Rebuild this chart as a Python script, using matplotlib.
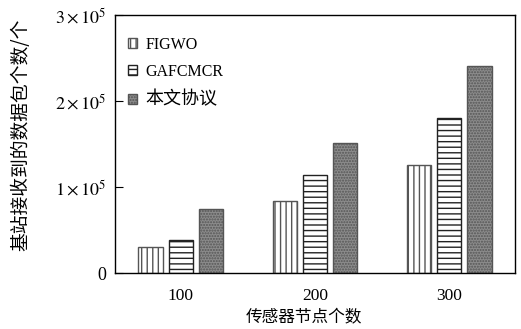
import matplotlib
matplotlib.use("Agg")
import matplotlib.pyplot as plt
import numpy as np

plt.rcParams["font.family"] = ["Liberation Serif", "Noto Sans CJK SC"]
plt.rcParams["mathtext.fontset"] = "stix"
plt.rcParams["hatch.linewidth"] = 1.0

# 数据
nodes = ["100", "200", "300"]
series = ["FIGWO", "GAFCMCR", "本文协议"]
figwo = [0.30e5, 0.84e5, 1.26e5]
gafcmcr = [0.38e5, 1.14e5, 1.80e5]
ours = [0.74e5, 1.51e5, 2.41e5]
yticks = [0, 1e5, 2e5, 3e5]
ytick_labels = ["0", r"$1\times10^5$", r"$2\times10^5$", r"$3\times10^5$"]

styles = [
    dict(facecolor="white", hatch="|||", edgecolor="#555555"),
    dict(facecolor="white", hatch="---", edgecolor="#222222"),
    dict(facecolor="#8c8c8c", hatch="......", edgecolor="#555555"),
]

fig = plt.figure(figsize=(5.21, 3.29), dpi=100)
ax = fig.add_axes([0.2207, 0.1702, 0.7678, 0.7842])

x = np.arange(len(nodes))
w = 0.18
offsets = [-0.225, 0, 0.225]
for vals, name, off, st in zip([figwo, gafcmcr, ours], series, offsets, styles):
    ax.bar(x + off, vals, width=w, label=name, linewidth=1.0, **st)

ax.set_xlim(-0.49, 2.49)
ax.set_ylim(0, 3e5)
ax.set_xticks(x)
ax.set_xticklabels(nodes, fontsize=12.5)
ax.set_yticks(yticks)
ax.set_yticklabels(ytick_labels, fontsize=13)
ax.tick_params(axis="x", length=0, pad=11)
ax.tick_params(axis="y", direction="in", length=6, pad=6)
for sp in ax.spines.values():
    sp.set_linewidth(1.0)

ax.set_xlabel("传感器节点个数", fontsize=12, family="Noto Sans CJK SC")
ax.xaxis.set_label_coords(0.4725, -0.14)
ax.set_ylabel("基站接收到的数据包个数/个", fontsize=13.5, family="Noto Sans CJK SC")
ax.yaxis.set_label_coords(-0.21, 0.535)

leg = ax.legend(loc="upper left", frameon=False, fontsize=11.5, handlelength=0.6,
                handleheight=0.6, handletextpad=0.5, labelspacing=0.7,
                borderaxespad=0.4, bbox_to_anchor=(0.0, 0.965))
leg.get_texts()[2].set_fontsize(13)

fig.savefig("out.png", dpi=100)
